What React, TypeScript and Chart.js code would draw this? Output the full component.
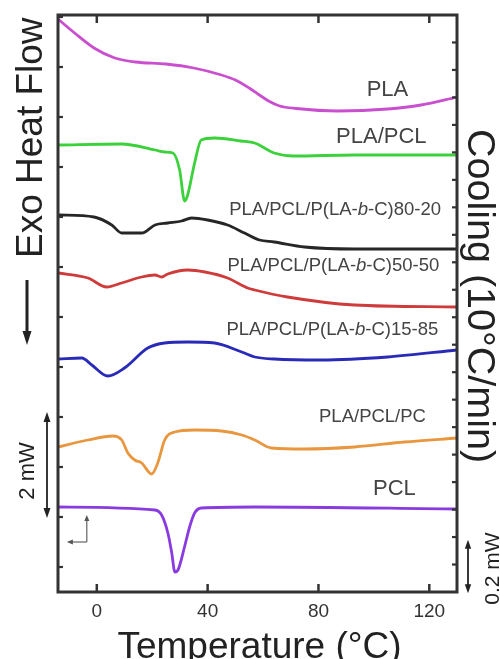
import React, { useEffect, useRef } from 'react';
import { Chart, registerables } from 'chart.js';

Chart.register(...registerables);

// ---- data (temperature °C, stacked heat-flow in left-axis units) ----
const X_TICKS = [0, 40, 80, 120];
const LEFT_TICKS = [0, 1, 2, 3, 4, 5, 6, 7, 8, 9, 10, 11];
const RIGHT_TICKS = [1, 2, 3, 4, 5, 6, 7, 8, 9, 10, 11, 12, 13, 14, 15, 16, 17, 18, 19, 20];

const PLA_T = [-14, -8, -1, 6.5, 14, 25, 35, 45, 50, 55, 58.7, 62, 66, 72, 87, 105, 117, 130];
const PLA_V = [10.96, 10.68, 10.38, 10.18, 10.1, 10.06, 9.98, 9.84, 9.74, 9.58, 9.44, 9.32, 9.22, 9.17, 9.12, 9.16, 9.24, 9.4];

const PLAPCL_T = [-14, 9, 21, 24.5, 27.5, 29.9, 31.7, 32.8, 35.3, 37.7, 42.5, 52, 57, 64, 71, 93, 130];
const PLAPCL_V = [8.44, 8.46, 8.34, 8.3, 8.28, 7.94, 7.32, 7.44, 8.08, 8.54, 8.58, 8.52, 8.48, 8.28, 8.22, 8.24, 8.24];

const B8020_T = [-14, -1, 5.4, 9, 16.2, 21, 25.6, 30.6, 34.2, 40, 47.2, 53.3, 58.7, 64, 75, 93, 130];
const B8020_V = [7.04, 7.0, 6.84, 6.68, 6.68, 6.84, 6.88, 6.92, 6.98, 6.94, 6.84, 6.68, 6.54, 6.5, 6.4, 6.36, 6.36];

const B5050_T = [-14, -3.2, 3.6, 9, 16.2, 21, 23.4, 25.6, 32.8, 39, 47.2, 54.4, 57, 68.8, 93, 130];
const B5050_V = [5.88, 5.78, 5.6, 5.68, 5.8, 5.84, 5.8, 5.86, 5.94, 5.9, 5.78, 5.58, 5.54, 5.4, 5.24, 5.2];

const B1585_T = [-14, -5.4, -1.8, 4, 10, 18.4, 24.5, 32.8, 42.5, 52.3, 57, 64, 81, 105, 130];
const B1585_V = [4.16, 4.18, 4.04, 3.82, 3.98, 4.38, 4.48, 4.5, 4.48, 4.3, 4.2, 4.16, 4.14, 4.2, 4.34];

const PC_T = [-14, -3.2, 5.8, 9, 11.2, 13.7, 16.2, 19.8, 22, 24.5, 28.1, 35.3, 45, 52.3, 57, 63, 75, 93, 111, 130];
const PC_V = [2.4, 2.54, 2.62, 2.54, 2.28, 2.14, 2.08, 1.86, 2.08, 2.54, 2.7, 2.74, 2.72, 2.64, 2.54, 2.38, 2.36, 2.4, 2.5, 2.58];

const PCL_T = [-14, 21, 23.4, 25.7, 27, 28.2, 29.3, 31.7, 33.5, 35.3, 37.8, 57, 130];
const PCL_V = [1.2, 1.14, 1.04, 0.67, 0.3, -0.1, -0.06, 0.41, 0.8, 1.08, 1.18, 1.2, 1.16];

const SERIES_NAMES = ['PLA', 'PLA/PCL', 'PLA/PCL/P(LA-b-C)80-20', 'PLA/PCL/P(LA-b-C)50-50', 'PLA/PCL/P(LA-b-C)15-85', 'PLA/PCL/PC', 'PCL'];
const SERIES_T = [PLA_T, PLAPCL_T, B8020_T, B5050_T, B1585_T, PC_T, PCL_T];
const SERIES_V = [PLA_V, PLAPCL_V, B8020_V, B5050_V, B1585_V, PC_V, PCL_V];
const SERIES_COLORS = ['#c94fcf', '#3ad13a', '#262626', '#cf3a3a', '#2a2ab8', '#e8973e', '#8a3be0'];

// label anchors (data coordinates) and label text pieces [text, italic]
const LABEL_POS: [number, number][] = [[104.9, 9.54], [102.7, 8.6], [86, 7.14], [85.4, 6.02], [85, 4.74], [99.5, 3.0], [107.4, 1.56]];
const LABEL_PARTS: [string, boolean][][] = [
  [['PLA', false]],
  [['PLA/PCL', false]],
  [['PLA/PCL/P(LA-', false], ['b', true], ['-C)80-20', false]],
  [['PLA/PCL/P(LA-', false], ['b', true], ['-C)50-50', false]],
  [['PLA/PCL/P(LA-', false], ['b', true], ['-C)15-85', false]],
  [['PLA/PCL/PC', false]],
  [['PCL', false]],
];
const LABEL_SIZES = [22, 22, 18.5, 18.5, 18.5, 18.5, 22];

const FONT = '"Liberation Sans", Arial, sans-serif';

function line(ctx: CanvasRenderingContext2D, x1: number, y1: number, x2: number, y2: number) {
  ctx.beginPath();
  ctx.moveTo(x1, y1);
  ctx.lineTo(x2, y2);
  ctx.stroke();
}

function head(ctx: CanvasRenderingContext2D, x: number, y: number, dx: number, dy: number, len: number, half: number) {
  const px = -dy, py = dx;
  ctx.beginPath();
  ctx.moveTo(x, y);
  ctx.lineTo(x - dx * len + px * half, y - dy * len + py * half);
  ctx.lineTo(x - dx * len - px * half, y - dy * len - py * half);
  ctx.closePath();
  ctx.fill();
}

const decor = {
  id: 'decor',
  afterDraw(chart: any) {
    const { ctx, chartArea: a, scales } = chart;
    const xs = scales.x, ys = scales.y, yr = scales.y2;
    ctx.save();
    ctx.strokeStyle = '#333';
    ctx.fillStyle = '#333';
    ctx.lineCap = 'butt';
    // frame
    ctx.lineWidth = 3;
    ctx.strokeRect(a.left, a.top, a.right - a.left, a.bottom - a.top);
    // inward ticks
    ctx.lineWidth = 2.5;
    for (const t of X_TICKS) {
      const px = xs.getPixelForValue(t);
      line(ctx, px, a.bottom, px, a.bottom - 8);
      line(ctx, px, a.top, px, a.top + 8);
    }
    ctx.lineWidth = 2.2;
    for (const t of LEFT_TICKS) {
      const py = ys.getPixelForValue(t);
      line(ctx, a.left, py, a.left + 5, py);
    }
    for (const t of RIGHT_TICKS) {
      const py = yr.getPixelForValue(t);
      line(ctx, a.right, py, a.right - 5, py);
    }

    // series labels
    ctx.fillStyle = '#444';
    LABEL_PARTS.forEach((parts, i) => {
      const size = LABEL_SIZES[i];
      const cx = xs.getPixelForValue(LABEL_POS[i][0]);
      const cy = ys.getPixelForValue(LABEL_POS[i][1]);
      let w = 0;
      for (const [s, it] of parts) {
        ctx.font = `${it ? 'italic ' : ''}${size}px ${FONT}`;
        w += ctx.measureText(s).width;
      }
      let x = cx - w / 2;
      ctx.textAlign = 'left';
      ctx.textBaseline = 'middle';
      for (const [s, it] of parts) {
        ctx.font = `${it ? 'italic ' : ''}${size}px ${FONT}`;
        ctx.fillText(s, x, cy);
        x += ctx.measureText(s).width;
      }
    });

    ctx.fillStyle = '#222';
    ctx.strokeStyle = '#222';
    // left title
    ctx.save();
    ctx.translate(a.left - 16, ys.getPixelForValue(6.18));
    ctx.rotate(-Math.PI / 2);
    ctx.font = `37px ${FONT}`;
    ctx.textAlign = 'left';
    ctx.textBaseline = 'alphabetic';
    ctx.fillText('Exo Heat Flow', 0, 0);
    ctx.restore();
    // exo arrow (down)
    ctx.lineWidth = 3;
    const ax = a.left - 31;
    const ay1 = ys.getPixelForValue(5.74), ay2 = ys.getPixelForValue(4.44);
    line(ctx, ax, ay1, ax, ay2 - 10);
    head(ctx, ax, ay2, 0, 1, 14, 4.5);

    // right title
    ctx.save();
    ctx.translate(a.right + 11, yr.getPixelForValue(16.85));
    ctx.rotate(Math.PI / 2);
    ctx.font = `39.5px ${FONT}`;
    ctx.textAlign = 'left';
    ctx.textBaseline = 'alphabetic';
    ctx.fillText('Cooling (10\u00b0C/min)', 0, 0);
    ctx.restore();

    // bottom title
    ctx.font = `37px ${FONT}`;
    ctx.textAlign = 'center';
    ctx.textBaseline = 'alphabetic';
    ctx.fillText('Temperature (\u00b0C)', (a.left + a.right) / 2 + 2, a.bottom + 66);

    // left 2 mW scale bar
    ctx.lineWidth = 1.8;
    const bx = a.left - 11;
    const by1 = ys.getPixelForValue(3.1), by2 = ys.getPixelForValue(0.98);
    line(ctx, bx, by1 + 8, bx, by2 - 8);
    head(ctx, bx, by1, 0, -1, 10, 3.5);
    head(ctx, bx, by2, 0, 1, 10, 3.5);
    ctx.save();
    ctx.translate(a.left - 24, (by1 + by2) / 2 + 6);
    ctx.rotate(-Math.PI / 2);
    ctx.font = `22px ${FONT}`;
    ctx.textAlign = 'center';
    ctx.fillText('2 mW', 0, 0);
    ctx.restore();

    // right 0.2 mW scale bar
    const rx = a.right + 11;
    const ry1 = yr.getPixelForValue(1.9), ry2 = yr.getPixelForValue(-0.05);
    line(ctx, rx, ry1 + 7, rx, ry2 - 7);
    head(ctx, rx, ry1, 0, -1, 9, 3.2);
    head(ctx, rx, ry2, 0, 1, 9, 3.2);
    ctx.save();
    ctx.translate(a.right + 42, (ry1 + ry2) / 2 + 2);
    ctx.rotate(-Math.PI / 2);
    ctx.font = `21px ${FONT}`;
    ctx.textAlign = 'center';
    ctx.fillText('0.2 mW', 0, 0);
    ctx.restore();

    // small L-shaped axis arrows
    ctx.lineWidth = 1.1;
    ctx.strokeStyle = '#555';
    ctx.fillStyle = '#555';
    const lx = xs.getPixelForValue(-3.6), lx2 = xs.getPixelForValue(-10.8);
    const ly = ys.getPixelForValue(0.5), ly2 = ys.getPixelForValue(1.04);
    line(ctx, lx, ly, lx, ly2 + 5);
    head(ctx, lx, ly2, 0, -1, 6, 2.5);
    line(ctx, lx, ly, lx2 + 5, ly);
    head(ctx, lx2, ly, -1, 0, 6, 2.5);

    ctx.restore();
  },
};

export default function App() {
  const ref = useRef<HTMLCanvasElement | null>(null);
  useEffect(() => {
    document.body.style.margin = '0';
    const canvas = ref.current;
    if (!canvas) return;
    const datasets = SERIES_NAMES.map((name, i) => ({
      label: name,
      data: SERIES_T[i].map((t, j) => ({ x: t, y: SERIES_V[i][j] })),
      borderColor: SERIES_COLORS[i],
      backgroundColor: SERIES_COLORS[i],
      borderWidth: 2.8,
      pointRadius: 0,
      cubicInterpolationMode: 'monotone' as const,
      fill: false,
      yAxisID: 'y',
    }));
    const chart = new Chart(canvas, {
      type: 'line',
      data: { datasets },
      options: {
        responsive: false,
        animation: false,
        layout: { padding: { top: 15, left: 0, right: 0, bottom: 0 } },
        plugins: { legend: { display: false }, tooltip: { enabled: false } },
        scales: {
          x: {
            type: 'linear',
            position: 'bottom',
            min: -14,
            max: 130,
            grid: { display: false, drawTicks: false },
            border: { display: false },
            ticks: { color: '#333', font: { size: 19, family: FONT }, padding: 8 },
            afterBuildTicks: (s: any) => { s.ticks = X_TICKS.map((v) => ({ value: v })); },
            afterFit: (s: any) => { s.height = 67; },
          },
          y: {
            type: 'linear',
            position: 'left',
            min: -0.5,
            max: 11.04,
            grid: { display: false, drawTicks: false },
            border: { display: false },
            ticks: { display: false },
            afterBuildTicks: (s: any) => { s.ticks = LEFT_TICKS.map((v) => ({ value: v })); },
            afterFit: (s: any) => { s.width = 58; },
          },
          y2: {
            type: 'linear',
            position: 'right',
            min: 0,
            max: 21,
            grid: { display: false, drawTicks: false },
            border: { display: false },
            ticks: { display: false },
            afterBuildTicks: (s: any) => { s.ticks = RIGHT_TICKS.map((v) => ({ value: v })); },
            afterFit: (s: any) => { s.width = 43; },
          },
        },
      },
      plugins: [decor],
    });
    return () => chart.destroy();
  }, []);
  return <canvas ref={ref} width={500} height={659} style={{ display: 'block' }} />;
}
